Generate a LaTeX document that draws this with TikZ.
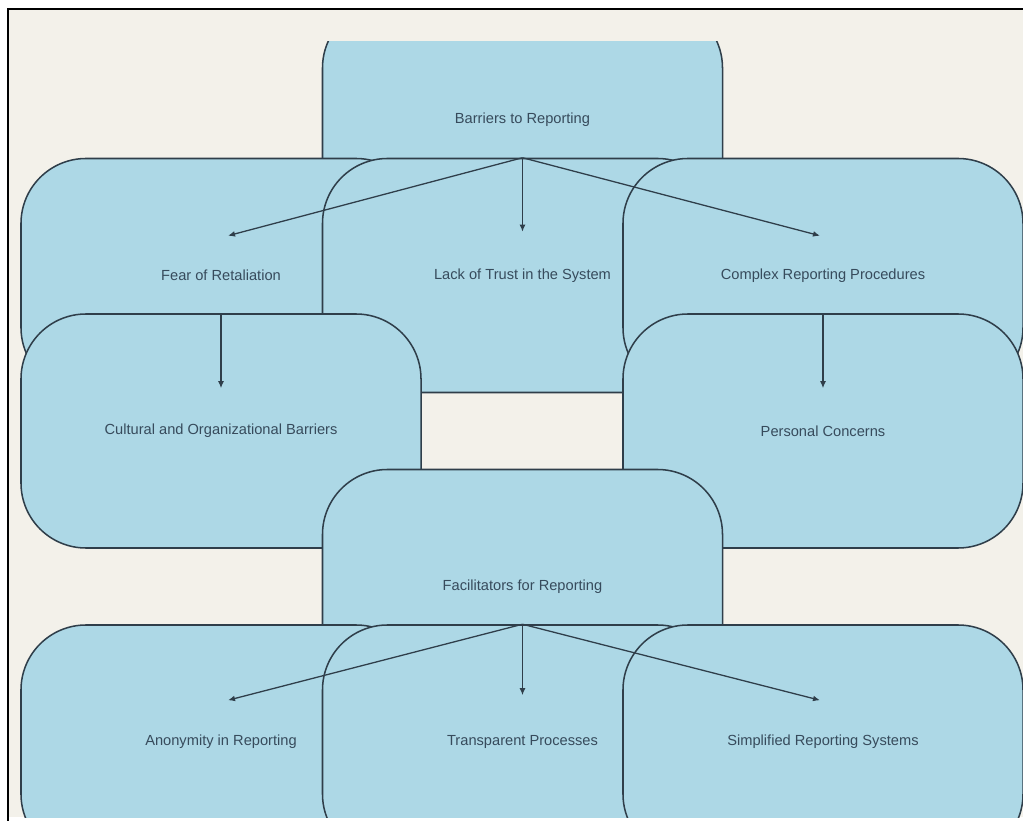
\documentclass[tikz,border=0pt]{standalone}
\usepackage{fontspec}
\setmainfont{Liberation Sans}
\usetikzlibrary{calc,arrows.meta}

\definecolor{bgbeige}{RGB}{243,241,234}
\definecolor{boxblue}{RGB}{173,216,230}
\definecolor{edgedark}{RGB}{47,62,74}
\definecolor{txtdark}{RGB}{55,75,92}

\tikzset{
	box/.style={draw=edgedark, fill=boxblue, line width=1.3pt, rounded corners=1.95cm,
		minimum width=12cm, minimum height=7.02cm, inner sep=0pt,
		text=txtdark, font=\fontsize{12.5}{15}\selectfont},
	arr/.style={draw=edgedark, line width=1.1pt, -{Latex[length=6pt,width=5pt]}}
}

\begin{document}
\begin{tikzpicture}[x=0.03cm, y=-0.03cm]
\useasboundingbox (0,0) rectangle (1023,821);
\fill[white] (0,0) rectangle (1023,821);
\fill[bgbeige] (8,9) rectangle (1023,817);

\begin{scope}
\clip (9,42) rectangle (1023,817);
% barriers
\node[box] (barriers) at (522.5,120) {Barriers to Reporting};
\node[box] (fear) at (221,275.5) {Fear of Retaliation};
\node[box] (lack) at (522.5,275.5) {Lack of Trust in the System};
\node[box] (complex) at (823,275.5) {Complex Reporting Procedures};
\node[box] (cultural) at (221,431) {Cultural and Organizational Barriers};
\node[box] (personal) at (823,431) {Personal Concerns};
% facilitators
\node[box] (facilitators) at (522.5,586.5) {Facilitators for Reporting};
\node[box] (anon) at (221,742) {Anonymity in Reporting};
\node[box] (transp) at (522.5,742) {Transparent Processes};
\node[box] (simpl) at (823,742) {Simplified Reporting Systems};
\end{scope}

\draw[arr] (barriers |- fear.north) -- ($(fear.north)+(7,78)$);
\draw[arr] (barriers |- lack.north) -- ($(lack.north)+(0,74)$);
\draw[arr] (barriers |- complex.north) -- ($(complex.north)+(-3,78)$);
\draw[arr] (fear |- cultural.north) -- ($(cultural.north)+(0,75)$);
\draw[arr] (complex |- personal.north) -- ($(personal.north)+(0,75)$);

\draw[arr] (facilitators |- anon.north) -- ($(anon.north)+(7,76)$);
\draw[arr] (facilitators |- transp.north) -- ($(transp.north)+(0,71)$);
\draw[arr] (facilitators |- simpl.north) -- ($(simpl.north)+(-3,76)$);

\draw[black, line width=1.6pt] (8,821) -- (8,9) -- (1023,9);
\end{tikzpicture}
\end{document}
